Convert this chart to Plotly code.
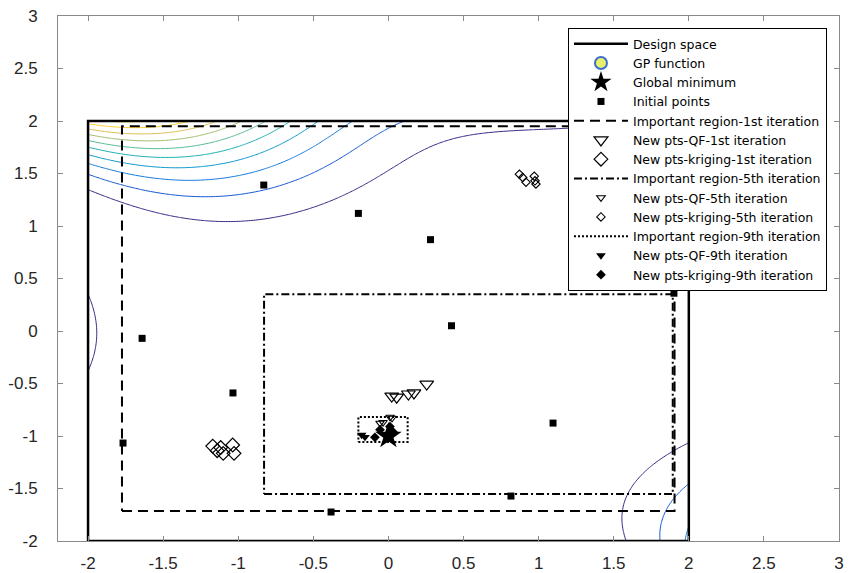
import numpy as np
import plotly.graph_objects as go

# ---------------- data ----------------
# Design space / important regions as [x0, x1, y0, y1]
design_space = [-2.0, 2.0, -2.0, 2.0]
region_1st = [-1.774, 1.905, -1.714, 1.95]
region_5th = [-0.828, 1.893, -1.553, 0.351]
region_9th = [-0.20, 0.128, -1.058, -0.82]

global_min_x = [0.0]
global_min_y = [-1.0]

init_x = [-0.83, -0.20, 0.28, 0.42, -1.64, -1.035, -1.767, 1.096, 0.816, -0.382, 1.901]
init_y = [1.39, 1.12, 0.87, 0.05, -0.07, -0.59, -1.067, -0.877, -1.572, -1.724, 0.36]

qf1_x = [0.022, 0.055, 0.133, 0.17, 0.255]
qf1_y = [-0.62, -0.63, -0.60, -0.59, -0.505]

kr1_x = [-1.17, -1.117, -1.10, -1.037, -1.028, -1.14]
kr1_y = [-1.096, -1.11, -1.165, -1.086, -1.165, -1.14]

qf5_x = [-0.056, -0.036, 0.011, 0.024]
qf5_y = [-0.877, -0.87, -0.82, -0.83]

kr5_x = [0.872, 0.894, 0.916, 0.971, 0.976, 0.982]
kr5_y = [1.493, 1.462, 1.417, 1.474, 1.43, 1.40]

qf9_x = [-0.178, -0.156, -0.02, 0.01]
qf9_y = [-0.99, -1.01, -0.99, -1.0]

kr9_x = [-0.09, -0.056, 0.01, 0.03, 0.0]
kr9_y = [-1.013, -0.94, -0.91, -0.96, -1.02]

# contour levels of the GP (Goldstein-Price) function shown in the picture
gp_levels = dict(start=1e5, end=1e6, size=1e5)

x_tickvals = [-2, -1.5, -1, -0.5, 0, 0.5, 1, 1.5, 2, 2.5, 3]
x_ticktext = ["-2", "-1.5", "-1", "-0.5", "0", "0.5", "1", "1.5", "2", "2.5", "3"]
y_tickvals = [-2, -1.5, -1, -0.5, 0, 0.5, 1, 1.5, 2, 2.5, 3]
y_ticktext = ["-2", "-1.5", "-1", "-0.5", "0", "0.5", "1", "1.5", "2", "2.5", "3"]

# ---------------- GP function surface on the design space ----------------
gx = np.linspace(design_space[0], design_space[1], 241)
gy = np.linspace(design_space[2], design_space[3], 241)
X, Y = np.meshgrid(gx, gy)
Z = (1 + (X + Y + 1) ** 2 * (19 - 14 * X + 3 * X ** 2 - 14 * Y + 6 * X * Y + 3 * Y ** 2)) * \
    (30 + (2 * X - 3 * Y) ** 2 * (18 - 32 * X + 12 * X ** 2 + 48 * Y - 36 * X * Y + 27 * Y ** 2))

parula = [
    [0.0, "#352a87"], [0.125, "#0f5cdd"], [0.25, "#1481d6"], [0.375, "#06a4ca"],
    [0.5, "#2eb7a4"], [0.625, "#87bf77"], [0.75, "#d1bb59"], [0.875, "#fec832"], [1.0, "#f9fb0e"],
]


def rect(b):
    return [b[0], b[1], b[1], b[0], b[0]], [b[2], b[2], b[3], b[3], b[2]]


fig = go.Figure()

fig.add_trace(go.Contour(
    x=gx, y=gy, z=Z, colorscale=parula, zmin=float(Z.min()), zmax=float(Z.max()),
    contours=dict(coloring="lines", **gp_levels), line=dict(width=1),
    showscale=False, showlegend=False, hoverinfo="skip",
))

dx, dy = rect(design_space)
fig.add_trace(go.Scatter(x=dx, y=dy, mode="lines", name="Design space",
                         line=dict(color="black", width=2.5)))
# legend-only entry for the contour
fig.add_trace(go.Scatter(x=[None], y=[None], mode="markers", name="GP function",
                         marker=dict(symbol="circle", size=12, color="#e8f06a",
                                     line=dict(color="#3a6fd0", width=2))))
fig.add_trace(go.Scatter(x=global_min_x, y=global_min_y, mode="markers", name="Global minimum",
                         marker=dict(symbol="star", size=20, color="black")))
fig.add_trace(go.Scatter(x=init_x, y=init_y, mode="markers", name="Initial points",
                         marker=dict(symbol="square", size=7, color="black")))

r1x, r1y = rect(region_1st)
fig.add_trace(go.Scatter(x=r1x, y=r1y, mode="lines", name="Important region-1st iteration",
                         line=dict(color="black", width=2, dash="10px,6px")))
fig.add_trace(go.Scatter(x=qf1_x, y=qf1_y, mode="markers", name="New pts-QF-1st iteration",
                         marker=dict(symbol="triangle-down-open", size=12, color="black",
                                     line=dict(width=1.2))))
fig.add_trace(go.Scatter(x=kr1_x, y=kr1_y, mode="markers", name="New pts-kriging-1st iteration",
                         marker=dict(symbol="diamond-open", size=10.5, color="black",
                                     line=dict(width=1.2))))

r5x, r5y = rect(region_5th)
fig.add_trace(go.Scatter(x=r5x, y=r5y, mode="lines", name="Important region-5th iteration",
                         line=dict(color="black", width=2, dash="8px,3px,2px,3px")))
fig.add_trace(go.Scatter(x=qf5_x, y=qf5_y, mode="markers", name="New pts-QF-5th iteration",
                         marker=dict(symbol="triangle-down-open", size=7.5, color="black",
                                     line=dict(width=1.1))))
fig.add_trace(go.Scatter(x=kr5_x, y=kr5_y, mode="markers", name="New pts-kriging-5th iteration",
                         marker=dict(symbol="diamond-open", size=6.5, color="black",
                                     line=dict(width=1.1))))

r9x, r9y = rect(region_9th)
fig.add_trace(go.Scatter(x=r9x, y=r9y, mode="lines", name="Important region-9th iteration",
                         line=dict(color="black", width=2, dash="2px,2px")))
fig.add_trace(go.Scatter(x=qf9_x, y=qf9_y, mode="markers", name="New pts-QF-9th iteration",
                         marker=dict(symbol="triangle-down", size=8.5, color="black")))
fig.add_trace(go.Scatter(x=kr9_x, y=kr9_y, mode="markers", name="New pts-kriging-9th iteration",
                         marker=dict(symbol="diamond", size=7.5, color="black")))

axis_common = dict(
    showgrid=False, zeroline=False, showline=True, linecolor="#8a8a8a", linewidth=1,
    mirror="ticks", ticks="inside", ticklen=5, tickcolor="#8a8a8a", tickwidth=1,
    automargin=False,
    tickfont=dict(family="Liberation Sans, Arial, sans-serif", size=17, color="#262626"),
)

fig.update_layout(
    width=858, height=573,
    margin=dict(l=58, r=19, t=16, b=32, autoexpand=False),
    paper_bgcolor="white", plot_bgcolor="white",
    xaxis=dict(range=[-2.2, 3], tickvals=x_tickvals, ticktext=x_ticktext,
               ticklabelstandoff=7, **axis_common),
    yaxis=dict(range=[-2, 3], tickvals=y_tickvals, ticktext=y_ticktext,
               ticklabelstandoff=16, **axis_common),
    legend=dict(x=0.9846, xanchor="right", y=0.977, yanchor="top",
                bgcolor="white", bordercolor="black", borderwidth=1,
                font=dict(family="DejaVu Sans, sans-serif", size=12.5, color="black"),
                itemwidth=54, tracegroupgap=0),
    showlegend=True,
)

fig.write_html("out.html")
